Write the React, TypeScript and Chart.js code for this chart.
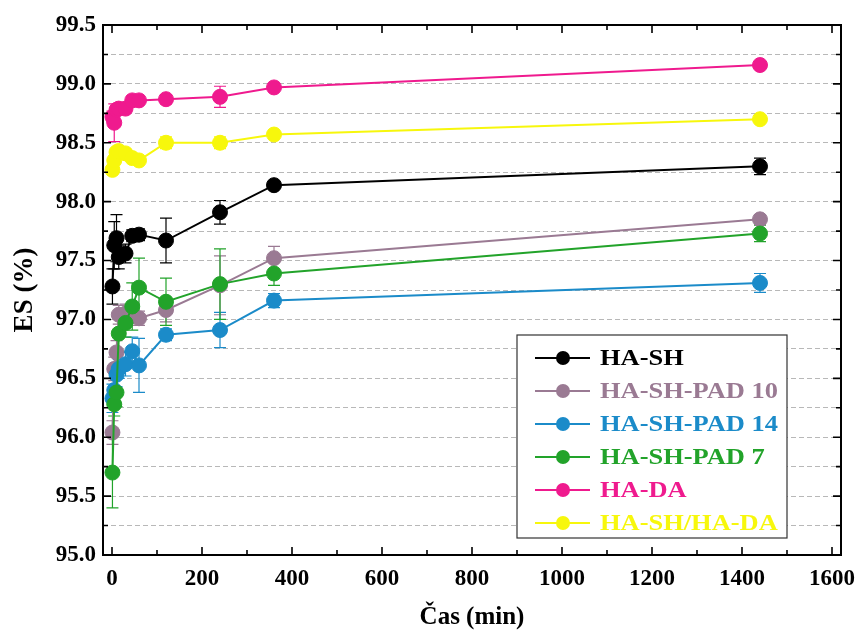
import React, { useEffect, useRef } from 'react';
import { Chart, registerables } from 'chart.js';
Chart.register(...registerables);

// ---- data ----
const times = [1, 5, 10, 15, 30, 45, 60, 120, 240, 360, 1440];
const seriesNames = ['HA-SH', 'HA-SH-PAD 10', 'HA-SH-PAD 14', 'HA-SH-PAD 7', 'HA-DA', 'HA-SH/HA-DA'];
const seriesColors = ['#000000', '#9a7a93', '#1b8bc9', '#22a32a', '#ef1a8e', '#f7f70c'];

const haSH = [97.28, 97.63, 97.69, 97.53, 97.56, 97.71, 97.72, 97.67, 97.91, 98.14, 98.30];
const haSHErr = [0.15, 0.2, 0.2, 0.1, 0.08, 0.05, 0.05, 0.19, 0.1, 0.03, 0.07];
const pad10 = [96.04, 96.58, 96.72, 97.04, 97.05, 97.03, 97.01, 97.08, 97.29, 97.52, 97.85];
const pad10Err = [0.1, 0.1, 0.1, 0.08, 0.08, 0.06, 0.06, 0.1, 0.25, 0.1, 0.04];
const pad14 = [96.33, 96.40, 96.53, 96.58, 96.62, 96.73, 96.61, 96.87, 96.91, 97.16, 97.31];
const pad14Err = [0.12, 0.1, 0.1, 0.08, 0.1, 0.12, 0.23, 0.05, 0.15, 0.06, 0.08];
const pad7 = [95.70, 96.28, 96.38, 96.88, 96.97, 97.11, 97.27, 97.15, 97.30, 97.39, 97.73];
const pad7Err = [0.3, 0.1, 0.12, 0.15, 0.12, 0.2, 0.25, 0.2, 0.3, 0.1, 0.07];
const haDA = [98.72, 98.67, 98.78, 98.79, 98.79, 98.86, 98.86, 98.87, 98.89, 98.97, 99.16];
const haDAErr = [0.05, 0.16, 0.03, 0.03, 0.03, 0.02, 0.02, 0.04, 0.09, 0.02, 0.03];
const haSHDA = [98.27, 98.35, 98.42, 98.43, 98.41, 98.37, 98.35, 98.50, 98.50, 98.57, 98.70];
const haSHDAErr = [0.03, 0.03, 0.03, 0.03, 0.03, 0.03, 0.03, 0.05, 0.05, 0.03, 0.03];

const seriesValues = [haSH, pad10, pad14, pad7, haDA, haSHDA];
const seriesErrors = [haSHErr, pad10Err, pad14Err, pad7Err, haDAErr, haSHDAErr];
const drawOrder = [3, 2, 1, 0, 4, 5];

const xTitle = 'Čas (min)';
const yTitle = 'ES (%)';

const FONT = "'Liberation Serif', 'Times New Roman', serif";

const errorBarPlugin = {
  id: 'errorBars',
  beforeDatasetsDraw(chart: any) {
    const ctx = chart.ctx;
    const xs = chart.scales.x;
    const ys = chart.scales.y;
    ctx.save();
    chart.data.datasets.forEach((ds: any, di: number) => {
      const errs = seriesErrors[di];
      ctx.strokeStyle = ds.borderColor;
      ctx.lineWidth = 1.2;
      ds.data.forEach((p: any, i: number) => {
        const e = errs[i];
        const px = xs.getPixelForValue(p.x);
        const y1 = ys.getPixelForValue(p.y + e);
        const y2 = ys.getPixelForValue(p.y - e);
        ctx.beginPath();
        ctx.moveTo(px, y1); ctx.lineTo(px, y2);
        ctx.moveTo(px - 6, y1); ctx.lineTo(px + 6, y1);
        ctx.moveTo(px - 6, y2); ctx.lineTo(px + 6, y2);
        ctx.stroke();
      });
    });
    ctx.restore();
  },
};

const framePlugin = {
  id: 'frame',
  afterDraw(chart: any) {
    const ctx = chart.ctx;
    const { left, right, top, bottom } = chart.chartArea;
    const xs = chart.scales.x;
    const ys = chart.scales.y;
    ctx.save();
    ctx.strokeStyle = '#000';
    ctx.lineWidth = 2;
    ctx.strokeRect(left, top, right - left, bottom - top);
    ctx.lineWidth = 1.6;
    ctx.beginPath();
    xs.ticks.forEach((t: any) => {
      const px = xs.getPixelForValue(t.value);
      const major = Math.abs(t.value % 200) < 1e-6;
      const len = major ? 8 : 5;
      ctx.moveTo(px, bottom); ctx.lineTo(px, bottom - len);
      ctx.moveTo(px, top); ctx.lineTo(px, top + len);
    });
    ys.ticks.forEach((t: any) => {
      const py = ys.getPixelForValue(t.value);
      const major = Math.abs(t.value * 2 - Math.round(t.value * 2)) < 1e-6;
      const len = major ? 8 : 5;
      ctx.moveTo(left, py); ctx.lineTo(left + len, py);
      ctx.moveTo(right, py); ctx.lineTo(right - len, py);
    });
    ctx.stroke();
    ctx.restore();
  },
};

const legendPlugin = {
  id: 'boxLegend',
  afterDraw(chart: any) {
    const ctx = chart.ctx;
    const bx = 517, by = 335, bw = 270, bh = 203;
    ctx.save();
    ctx.fillStyle = '#fff';
    ctx.fillRect(bx, by, bw, bh);
    ctx.strokeStyle = '#333';
    ctx.lineWidth = 1.2;
    ctx.strokeRect(bx, by, bw, bh);
    seriesNames.forEach((name, i) => {
      const cy = by + 23 + i * 33;
      const c = seriesColors[i];
      ctx.strokeStyle = c;
      ctx.lineWidth = 2;
      ctx.beginPath();
      ctx.moveTo(bx + 18, cy); ctx.lineTo(bx + 73, cy);
      ctx.stroke();
      ctx.fillStyle = c;
      ctx.beginPath();
      ctx.arc(bx + 46, cy, 7, 0, Math.PI * 2);
      ctx.fill();
      ctx.save();
      ctx.translate(bx + 83, cy + 1);
      ctx.scale(1.15, 1);
      ctx.font = `bold 23px ${FONT}`;
      ctx.textBaseline = 'middle';
      ctx.textAlign = 'left';
      ctx.fillText(name, 0, 0);
      ctx.restore();
    });
    ctx.restore();
  },
};

export default function App() {
  const ref = useRef<HTMLCanvasElement>(null);
  useEffect(() => {
    document.body.style.margin = '0';
    const datasets = seriesNames.map((name, i) => ({
      label: name,
      data: times.map((t, j) => ({ x: t, y: seriesValues[i][j] })),
      borderColor: seriesColors[i],
      backgroundColor: seriesColors[i],
      pointBackgroundColor: seriesColors[i],
      pointBorderColor: seriesColors[i],
      pointRadius: 7.5,
      pointBorderWidth: 1,
      borderWidth: 2,
      showLine: true,
      tension: 0,
      order: drawOrder[i],
    }));
    const chart = new Chart(ref.current!, {
      type: 'scatter',
      data: { datasets },
      options: {
        animation: false,
        responsive: false,
        layout: { padding: { top: 25, right: 19, left: 0, bottom: 0 } },
        plugins: { legend: { display: false }, tooltip: { enabled: false } },
        scales: {
          x: {
            type: 'linear',
            min: -20,
            max: 1620,
            afterFit: (s: any) => { s.height = 80; s.paddingRight = 0; s.paddingLeft = 0; },
            ticks: {
              stepSize: 100,
              includeBounds: false,
              autoSkip: false,
              maxRotation: 0,
              padding: 10,
              color: '#000',
              font: { family: FONT, size: 23, weight: 'bold' },
              callback: (v: any) => (Math.abs(v % 200) < 1e-6 ? String(v) : ''),
            },
            grid: { display: false, drawTicks: false },
            border: { display: false },
            title: {
              display: true,
              text: xTitle,
              color: '#000',
              font: { family: FONT, size: 25, weight: 'bold' },
              padding: { top: 0, bottom: 2 },
            },
          },
          y: {
            min: 95,
            max: 99.5,
            afterFit: (s: any) => { s.width = 103; },
            ticks: {
              stepSize: 0.25,
              autoSkip: false,
              padding: 7,
              color: '#000',
              font: { family: FONT, size: 23, weight: 'bold' },
              callback: (v: any) => (Math.abs(v * 2 - Math.round(v * 2)) < 1e-6 ? Number(v).toFixed(1) : ''),
            },
            grid: { color: '#b8b8b8', lineWidth: 1, drawTicks: false },
            border: { display: false, dash: [5, 3] },
            title: {
              display: true,
              text: yTitle,
              color: '#000',
              font: { family: FONT, size: 27, weight: 'bold' },
              padding: { top: 9, bottom: 0 },
            },
          },
        },
      },
      plugins: [errorBarPlugin, framePlugin, legendPlugin],
    });
    return () => chart.destroy();
  }, []);
  return (
    <div style={{ width: 860, height: 635 }}>
      <canvas ref={ref} width={860} height={635} style={{ display: 'block' }} />
    </div>
  );
}
